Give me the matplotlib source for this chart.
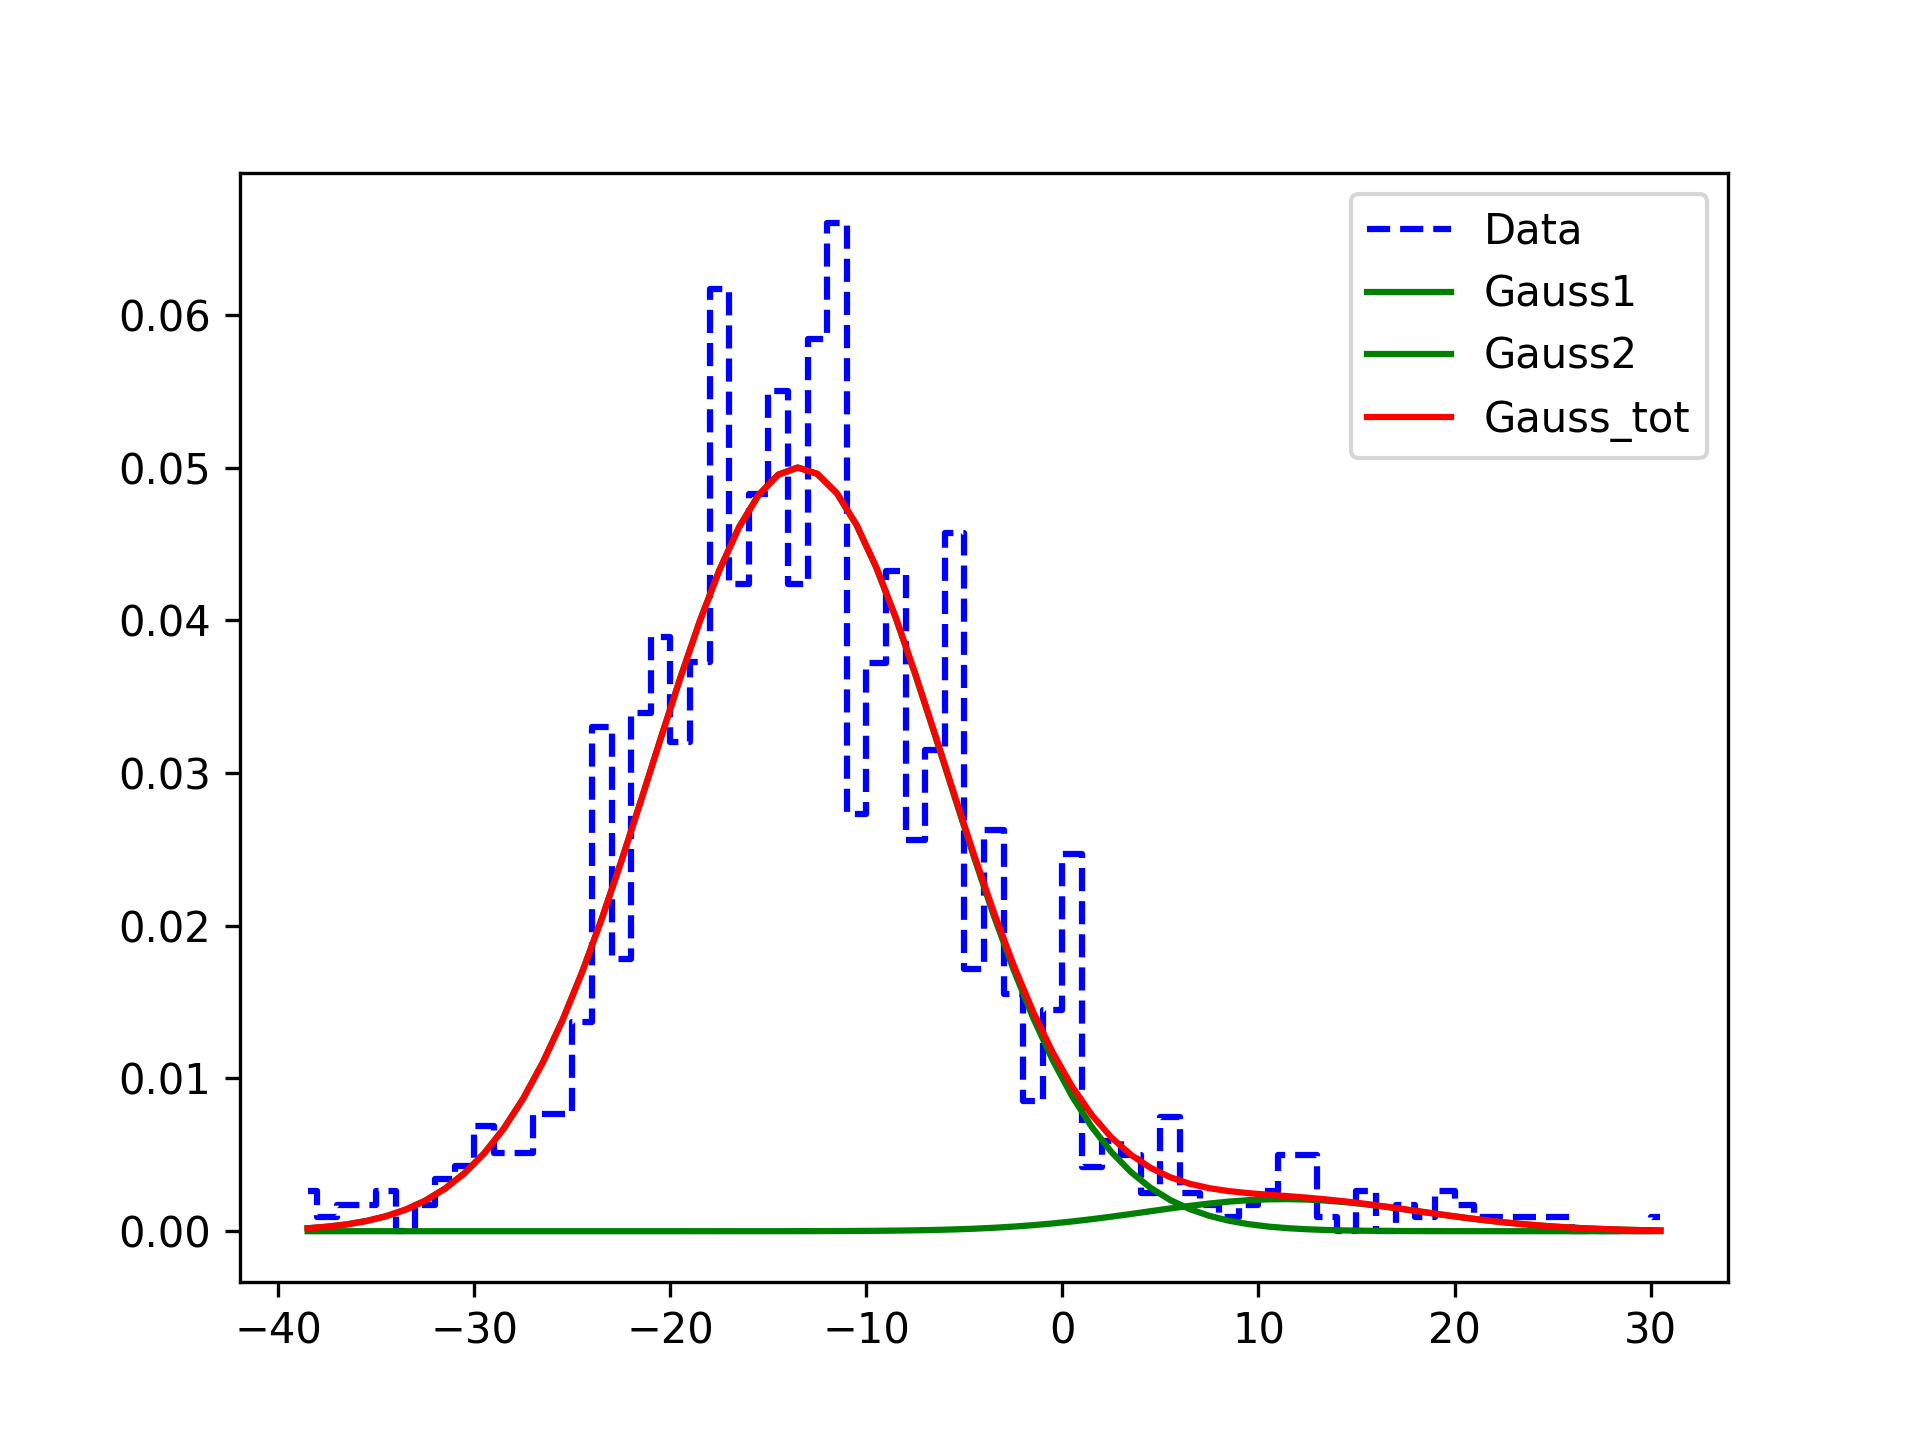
import numpy as np
import matplotlib
matplotlib.use("Agg")
import matplotlib.pyplot as plt

# histogram (density), one value per bin
bin_start = -38.5   # centre of first bin
bin_width = 1.0
density = [0.0026, 0.0009, 0.0017, 0.0017, 0.0026, 0.0000, 0.0017, 0.0034, 0.0043, 0.0069,
           0.0051, 0.0051, 0.0077, 0.0077, 0.0137, 0.0330, 0.0178, 0.0339, 0.0389, 0.0320,
           0.0373, 0.0617, 0.0424, 0.0483, 0.0550, 0.0424, 0.0584, 0.0660, 0.0273, 0.0372,
           0.0432, 0.0256, 0.0315, 0.0457, 0.0172, 0.0263, 0.0155, 0.0085, 0.0145, 0.0247,
           0.0042, 0.0059, 0.0050, 0.0025, 0.0075, 0.0025, 0.0017, 0.0009, 0.0017, 0.0026,
           0.0050, 0.0050, 0.0009, 0.0000, 0.0026, 0.0000, 0.0017, 0.0009, 0.0026, 0.0017,
           0.0009, 0.0009, 0.0009, 0.0009, 0.0009, 0.0000, 0.0000, 0.0000, 0.0000, 0.0009]

# fitted gaussian parameters (amplitude, mean, sigma)
g1_amp, g1_mu, g1_sigma = 0.0500, -13.47, 7.5
g2_amp, g2_mu, g2_sigma = 0.0021, 11.3, 7.0


def gauss(x, a, mu, s):
    return a * np.exp(-(x - mu) ** 2 / (2 * s ** 2))


x = bin_start + bin_width * np.arange(len(density))
g1 = gauss(x, g1_amp, g1_mu, g1_sigma)
g2 = gauss(x, g2_amp, g2_mu, g2_sigma)

fig = plt.figure(figsize=(6.4, 4.8), dpi=300)
plt.plot(x, density, 'b--', drawstyle='steps-mid', label='Data')
plt.plot(x, g1, 'g', label='Gauss1')
plt.plot(x, g2, 'g', label='Gauss2')
plt.plot(x, g1 + g2, 'r', label='Gauss_tot')
plt.legend(loc='upper right')
plt.savefig('out.png', dpi=300)
